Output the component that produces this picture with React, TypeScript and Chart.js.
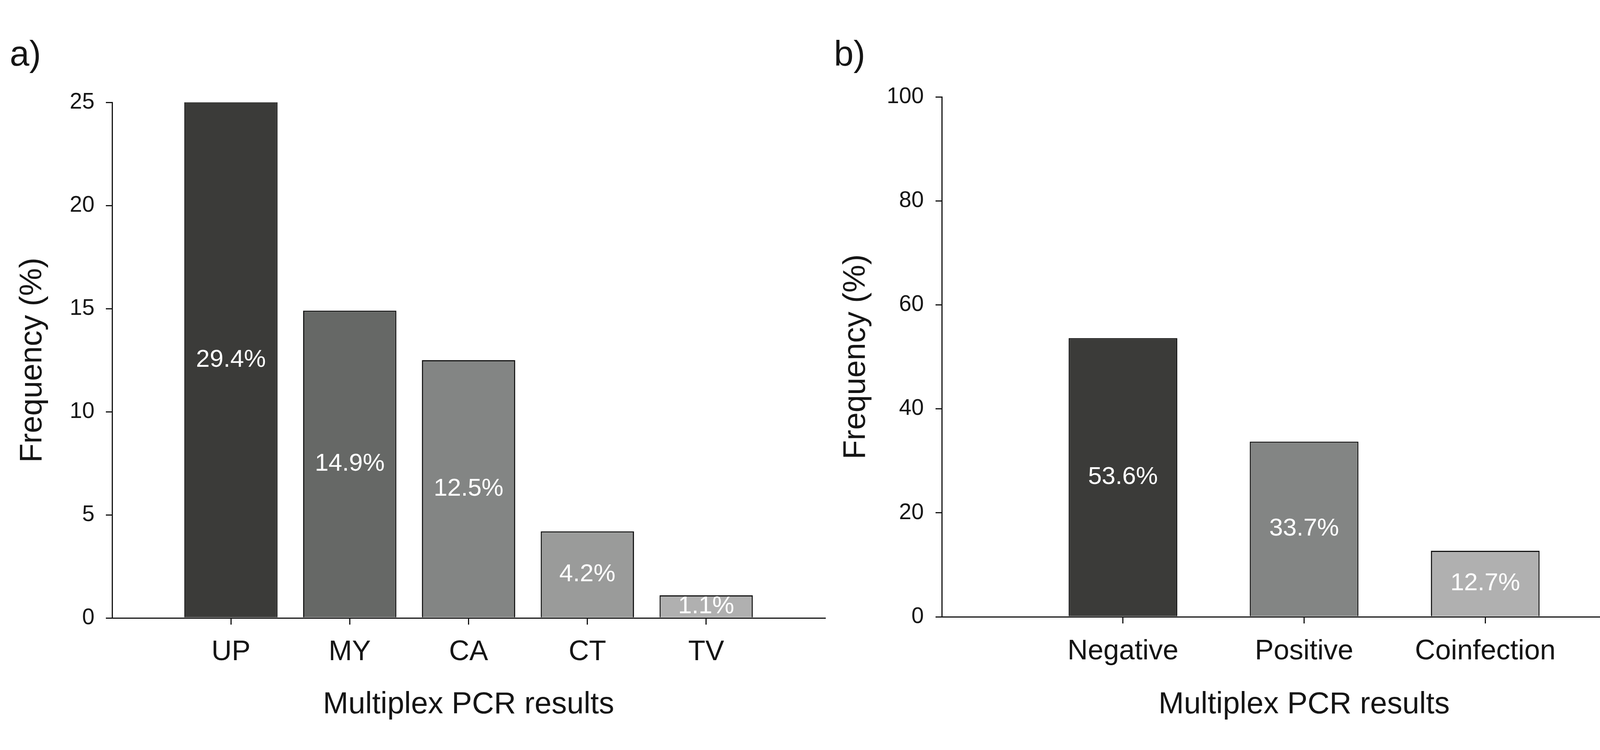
import React, { useEffect, useRef } from 'react';
import { Chart, registerables } from 'chart.js';

Chart.register(...registerables);

// ---- data ----
const CATEGORIES_A = ['UP', 'MY', 'CA', 'CT', 'TV'];
const VALUES_A = [29.4, 14.9, 12.5, 4.2, 1.1];
const COLORS_A = ['#3b3b39', '#666866', '#838584', '#9a9b9a', '#b0b0b0'];
const Y_RANGE_A = [0, 25];
const Y_STEP_A = 5;

const CATEGORIES_B = ['Negative', 'Positive', 'Coinfection'];
const VALUES_B = [53.6, 33.7, 12.7];
const COLORS_B = ['#3b3b39', '#838584', '#b0b0b0'];
const Y_RANGE_B = [0, 100];
const Y_STEP_B = 20;

const PANEL_LABELS = ['a)', 'b)'];
const X_TITLE = 'Multiplex PCR results';
const Y_TITLE = 'Frequency (%)';

const FONT = '"Liberation Sans", Arial, Helvetica, sans-serif';
const INK = '#151515';
const CLEAR = 'rgba(0,0,0,0)';

type Panel = {
  categories: string[];
  values: number[];
  colors: string[];
  range: number[];
  step: number;
  label: string;
  left: number;
  width: number;
  height: number;
  areaLeft: number;
  areaTop: number;
  areaRight: number;
  areaBottom: number;
  yTitlePad: number;
  yTickPad: number;
  xTickPad: number;
  xTitlePad: number;
  barPct: number;
  labelX: number;
  labelY: number;
};

const PANELS: Panel[] = [
  {
    categories: CATEGORIES_A, values: VALUES_A, colors: COLORS_A, range: Y_RANGE_A, step: Y_STEP_A,
    label: PANEL_LABELS[0],
    left: 0, width: 2140, height: 1920,
    areaLeft: 287, areaTop: 262, areaRight: 2122, areaBottom: 1582,
    yTitlePad: 36, yTickPad: 29, xTickPad: 28, xTitlePad: 69,
    barPct: 0.785, labelX: 25, labelY: 168,
  },
  {
    categories: CATEGORIES_B, values: VALUES_B, colors: COLORS_B, range: Y_RANGE_B, step: Y_STEP_B,
    label: PANEL_LABELS[1],
    left: 2060, width: 2322, height: 1920,
    areaLeft: 351, areaTop: 248, areaRight: 2206, areaBottom: 1579,
    yTitlePad: 84, yTickPad: 30, xTickPad: 29, xTitlePad: 69,
    barPct: 0.6, labelX: 75, labelY: 168,
  },
];

const barLabelPlugin = {
  id: 'barLabels',
  afterDatasetsDraw(chart: any, _args: any, opts: any) {
    const { ctx, chartArea } = chart;
    const meta = chart.getDatasetMeta(0);
    const data = chart.data.datasets[0].data as (number | null)[];
    ctx.save();
    ctx.font = `${opts.size}px ${FONT}`;
    ctx.fillStyle = opts.color;
    ctx.textAlign = 'center';
    ctx.textBaseline = 'middle';
    meta.data.forEach((bar: any, i: number) => {
      const v = data[i];
      if (v === null || v === undefined) return;
      const { x, y, base } = bar.getProps(['x', 'y', 'base'], true);
      const top = Math.max(Math.min(y, base), chartArea.top);
      ctx.fillText(`${v.toFixed(1)}%`, x, (top + base) / 2);
    });
    ctx.restore();
  },
};

const panelLabelPlugin = {
  id: 'panelLabel',
  afterDraw(chart: any, _args: any, opts: any) {
    const { ctx } = chart;
    ctx.save();
    ctx.font = `${opts.size}px ${FONT}`;
    ctx.fillStyle = INK;
    ctx.textAlign = 'left';
    ctx.textBaseline = 'alphabetic';
    ctx.fillText(opts.text, opts.x, opts.y);
    ctx.restore();
  },
};

function makeConfig(p: Panel): any {
  const labels = ['', ...p.categories, ''];
  const data = [null, ...p.values, null];
  const colors = [CLEAR, ...p.colors, CLEAR];
  return {
    type: 'bar',
    data: {
      labels,
      datasets: [
        {
          data,
          backgroundColor: colors,
          borderColor: INK,
          borderWidth: 3,
          borderSkipped: 'start',
          barPercentage: p.barPct,
          categoryPercentage: 1,
          clip: 0,
        },
      ],
    },
    options: {
      responsive: false,
      maintainAspectRatio: false,
      animation: false,
      devicePixelRatio: 1,
      events: [],
      layout: {
        padding: { left: 0, top: p.areaTop, right: p.width - p.areaRight, bottom: 0 },
      },
      plugins: {
        legend: { display: false },
        tooltip: { enabled: false },
        title: { display: false },
        barLabels: { size: 63, color: '#ffffff' },
        panelLabel: { text: p.label, x: p.labelX, y: p.labelY, size: 90 },
      },
      scales: {
        x: {
          type: 'category',
          offset: false,
          z: 1,
          grid: {
            display: true,
            drawOnChartArea: false,
            drawTicks: true,
            offset: false,
            tickLength: 17,
            lineWidth: 3,
            tickWidth: 3,
            tickColor: (c: any) => (c.tick && c.tick.label === '' ? CLEAR : INK),
          },
          border: { display: true, color: INK, width: 3 },
          ticks: {
            autoSkip: false,
            maxRotation: 0,
            minRotation: 0,
            padding: p.xTickPad,
            color: INK,
            font: { family: FONT, size: 72 },
          },
          title: {
            display: true,
            text: X_TITLE,
            color: INK,
            font: { family: FONT, size: 78 },
            padding: { top: 0, bottom: p.xTitlePad },
          },
          afterFit: (s: any) => {
            s.height = p.height - p.areaBottom;
          },
        },
        y: {
          type: 'linear',
          min: p.range[0],
          max: p.range[1],
          grid: {
            display: true,
            drawOnChartArea: false,
            drawTicks: true,
            tickLength: 16,
            lineWidth: 3,
            tickWidth: 3,
            tickColor: INK,
          },
          border: { display: true, color: INK, width: 3 },
          ticks: {
            stepSize: p.step,
            padding: p.yTickPad,
            color: INK,
            font: { family: FONT, size: 57 },
          },
          title: {
            display: true,
            text: Y_TITLE,
            color: INK,
            font: { family: FONT, size: 80 },
            padding: { top: p.yTitlePad, bottom: 0 },
          },
          afterFit: (s: any) => {
            s.width = p.areaLeft;
          },
        },
      },
    },
    plugins: [barLabelPlugin, panelLabelPlugin],
  };
}

function BarPanel({ panel }: { panel: Panel }) {
  const ref = useRef<HTMLCanvasElement | null>(null);
  useEffect(() => {
    if (!ref.current) return;
    const chart = new Chart(ref.current, makeConfig(panel));
    return () => chart.destroy();
  }, [panel]);
  return (
    <canvas
      ref={ref}
      width={panel.width}
      height={panel.height}
      style={{
        position: 'absolute',
        left: panel.left,
        top: 0,
        width: panel.width,
        height: panel.height,
      }}
    />
  );
}

export default function App() {
  return (
    <div
      style={{
        position: 'absolute',
        left: 0,
        top: 0,
        width: 4382,
        height: 1920,
        background: '#ffffff',
        overflow: 'hidden',
      }}
    >
      {PANELS.map((p) => (
        <BarPanel key={p.label} panel={p} />
      ))}
    </div>
  );
}
